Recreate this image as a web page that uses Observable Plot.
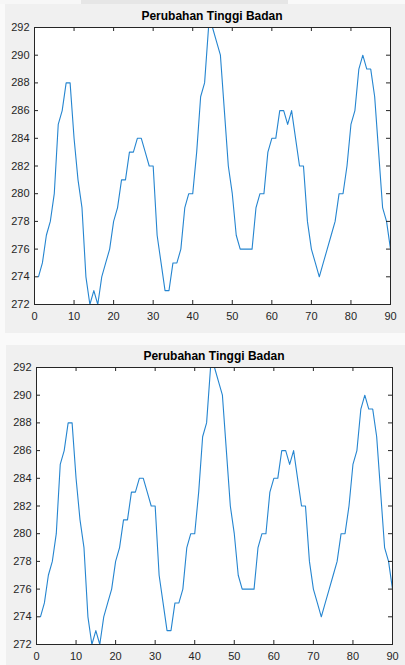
<!DOCTYPE html>
<html>
<head>
<meta charset="utf-8">
<script src="https://cdn.jsdelivr.net/npm/d3@7"></script>
<script src="https://cdn.jsdelivr.net/npm/@observablehq/plot@0.6"></script>
<style>
  html, body { margin: 0; padding: 0; background: #fafafa; }
  #page { position: relative; width: 405px; height: 665px; overflow: hidden; background: #fafafa; font-family: "Liberation Sans", Arial, sans-serif; }
  .panel { position: absolute; background: #f0f0f0; }
  .title { position: absolute; font-weight: bold; font-size: 12px; line-height: 12px; color: #000; white-space: nowrap; transform: translateX(-50%); }
  .strip { position: absolute; top: 0; height: 4px; }
  .plot { position: absolute; }
</style>
</head>
<body>
<div id="page">
  <div class="strip" style="left:0;width:81px;background:#f7f7f7"></div>
  <div class="strip" style="left:81px;width:207px;background:#e6e6e6"></div>
  <div class="strip" style="left:288px;width:117px;background:#f9f9f9"></div>
  <div class="panel" style="left:5px;top:4px;width:400px;height:329px"></div>
  <div class="panel" style="left:6px;top:345px;width:399px;height:320px"></div>
  <div class="title" style="left:212px;top:10px">Perubahan Tinggi Badan</div>
  <div class="title" style="left:214px;top:350px">Perubahan Tinggi Badan</div>
  <div class="plot" id="p1" style="left:5px;top:4px"></div>
  <div class="plot" id="p2" style="left:5px;top:345px"></div>
</div>
<script>
// Tinggi badan (height) values, sample 1..90
const tinggi = [
  274, 275, 277, 278, 280, 285, 286, 288, 288, 284,
  281, 279, 274, 272, 273, 272, 274, 275, 276, 278,
  279, 281, 281, 283, 283, 284, 284, 283, 282, 282,
  277, 275, 273, 273, 275, 275, 276, 279, 280, 280,
  283, 287, 288, 292, 292, 291, 290, 286, 282, 280,
  277, 276, 276, 276, 276, 279, 280, 280, 283, 284,
  284, 286, 286, 285, 286, 284, 282, 282, 278, 276,
  275, 274, 275, 276, 277, 278, 280, 280, 282, 285,
  286, 289, 290, 289, 289, 287, 283, 279, 278, 276
];
const xTicks = [0, 10, 20, 30, 40, 50, 60, 70, 80, 90];
const yTicks = [272, 274, 276, 278, 280, 282, 284, 286, 288, 290, 292];
const xDomain = [0, 90];
const yDomain = [272, 292];

const AX = "#262626";
const LINE = "#2585d0";

function makePlot(el, {width, height, mt, mr, mb, ml}) {
  const fw = width - ml - mr;
  const fh = height - mt - mb;
  const tl = 4;
  const chart = Plot.plot({
    width, height,
    marginTop: mt, marginRight: mr, marginBottom: mb, marginLeft: ml,
    style: {background: "transparent", fontSize: "11px", fontFamily: "'Liberation Sans', Arial, sans-serif", color: AX},
    x: {domain: xDomain},
    y: {domain: yDomain},
    marks: [
      Plot.frame({fill: "white", stroke: null}),
      Plot.line(tinggi, {x: (d, i) => i + 1, y: d => d, stroke: LINE, strokeWidth: 1.1}),
      Plot.tickX(xTicks, {x: d => d, stroke: AX, insetTop: fh - tl}),
      Plot.tickX(xTicks, {x: d => d, stroke: AX, insetBottom: fh - tl}),
      Plot.tickY(yTicks, {y: d => d, stroke: AX, insetRight: fw - tl}),
      Plot.tickY(yTicks, {y: d => d, stroke: AX, insetLeft: fw - tl}),
      Plot.frame({stroke: AX, strokeWidth: 1}),
      Plot.axisX({ticks: xTicks, tickSize: 0, tickPadding: 8, label: null, fill: AX}),
      Plot.axisY({ticks: yTicks, tickSize: 0, tickPadding: 5, label: null, fill: AX})
    ]
  });
  document.getElementById(el).appendChild(chart);
}

makePlot("p1", {width: 400, height: 329, mt: 23, mr: 15, mb: 29, ml: 29});
makePlot("p2", {width: 400, height: 320, mt: 22, mr: 13, mb: 21, ml: 31});
</script>
</body>
</html>
